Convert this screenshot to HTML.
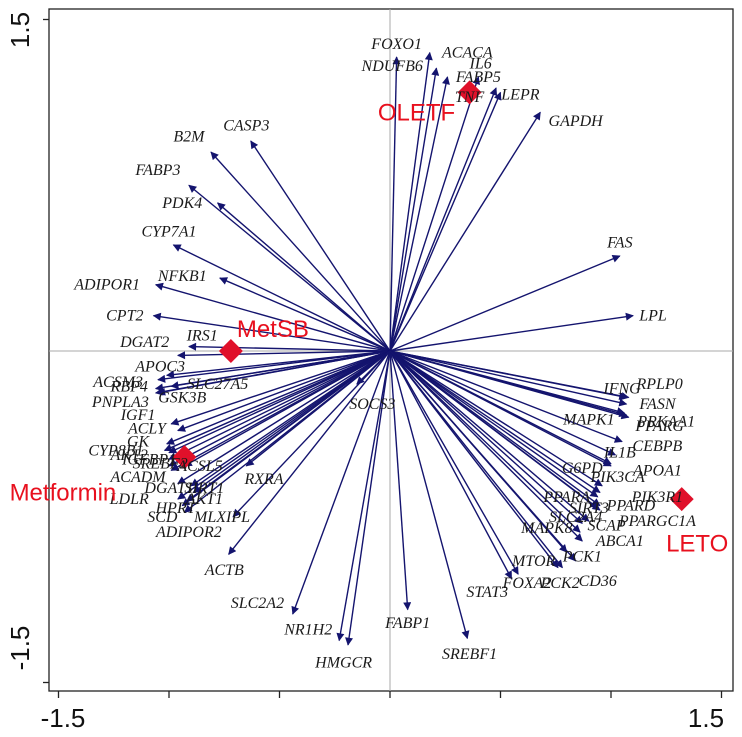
<!DOCTYPE html>
<html><head><meta charset="utf-8"><style>
html,body{margin:0;padding:0;background:#fff;}
svg{display:block;}
.g{font-family:"Liberation Serif",serif;font-style:italic;font-size:16px;fill:#1a1a1a;}
.s{font-family:"Liberation Sans",sans-serif;font-size:24px;fill:#e8101e;}
.ax{font-family:"Liberation Sans",sans-serif;font-size:26px;fill:#111;}
</style></head><body>
<svg id="chart" width="742" height="737" viewBox="0 0 742 737" xmlns="http://www.w3.org/2000/svg">
<defs><marker id="ah" viewBox="0 0 10 10" refX="9" refY="5" markerWidth="9" markerHeight="8" markerUnits="userSpaceOnUse" orient="auto"><path d="M0,0 L10,5 L0,10 z" fill="#14146e"/></marker></defs>
</svg>
<script>
const genes=["FOXO1","ACACA","NDUFB6","FABP5","IL6","TNF","LEPR","GAPDH","FAS","LPL","CASP3","B2M","FABP3","PDK4","CYP7A1","NFKB1","ADIPOR1","CPT2","IRS1","DGAT2","APOC3","ACSM3","RBP4","SLC27A5","PNPLA3","GSK3B","IGF1","ACLY","GK","CYP8B1","AKT2","IGFBP1","ACSL5","ACADM","SREBF2","DGAT1","SIRT1","AKT1","LDLR","HPRT","SCD","MLXIPL","ADIPOR2","RXRA","ACTB","SLC2A2","NR1H2","HMGCR","FABP1","SREBF1","STAT3","FOXA2","MTOR","PCK2","PCK1","CD36","SOCS3","IFNG","RPLP0","FASN","MAPK1","PRKAA1","PPARG","CEBPB","IL1B","G6PD","APOA1","PIK3CA","PPARA","PIK3R1","PPARD","SIRT3","PPARGC1A","SLC2A4","MAPK8","SCAP","ABCA1"];
const pc1=[0.03,0.18,0.21,0.26,0.40,0.48,0.50,0.68,1.04,1.10,-0.63,-0.81,-0.91,-0.78,-0.98,-0.77,-1.06,-1.07,-0.91,-0.96,-1.01,-1.05,-1.06,-0.99,-1.06,-1.05,-0.99,-0.96,-1.01,-1.02,-1.00,-1.00,-0.93,-0.99,-1.00,-0.96,-0.90,-0.89,-0.96,-0.92,-0.94,-0.71,-0.93,-0.65,-0.73,-0.44,-0.23,-0.19,0.08,0.35,0.55,0.58,0.76,0.78,0.80,0.84,-0.15,1.07,1.08,1.07,1.06,1.07,1.08,1.05,1.02,1.00,1.00,0.96,0.94,0.95,0.95,0.94,0.95,0.90,0.87,0.86,0.87];
const pc2=[1.33,1.35,1.28,1.24,1.24,1.19,1.17,1.08,0.43,0.16,0.95,0.90,0.75,0.67,0.48,0.33,0.30,0.16,0.02,-0.02,-0.11,-0.13,-0.17,-0.16,-0.19,-0.19,-0.33,-0.36,-0.42,-0.45,-0.46,-0.49,-0.52,-0.54,-0.52,-0.60,-0.61,-0.64,-0.67,-0.68,-0.70,-0.75,-0.73,-0.52,-0.92,-1.19,-1.31,-1.33,-1.17,-1.30,-1.03,-1.01,-0.98,-0.98,-0.91,-0.95,-0.15,-0.21,-0.21,-0.24,-0.28,-0.29,-0.30,-0.41,-0.47,-0.51,-0.52,-0.61,-0.66,-0.64,-0.70,-0.71,-0.72,-0.77,-0.78,-0.82,-0.86];
const labelX=[0.03,0.35,0.01,0.40,0.41,0.36,0.59,0.84,1.04,1.19,-0.65,-0.91,-1.05,-0.94,-1.00,-0.94,-1.28,-1.20,-0.85,-1.11,-1.04,-1.23,-1.18,-0.78,-1.22,-0.94,-1.14,-1.10,-1.14,-1.24,-1.18,-1.09,-0.86,-1.14,-1.04,-1.00,-0.84,-0.84,-1.18,-0.97,-1.03,-0.76,-0.91,-0.57,-0.75,-0.60,-0.37,-0.21,0.08,0.36,0.44,0.62,0.65,0.77,0.87,0.94,-0.08,1.05,1.22,1.21,0.90,1.25,1.22,1.21,1.04,0.87,1.21,1.03,0.80,1.21,1.09,0.90,1.21,0.84,0.71,0.98,1.04];
const labelY=[1.39,1.35,1.29,1.24,1.30,1.15,1.16,1.04,0.49,0.16,1.02,0.97,0.82,0.67,0.54,0.34,0.30,0.16,0.07,0.04,-0.07,-0.14,-0.16,-0.15,-0.23,-0.21,-0.29,-0.35,-0.41,-0.45,-0.47,-0.49,-0.52,-0.57,-0.51,-0.62,-0.62,-0.67,-0.67,-0.71,-0.75,-0.75,-0.82,-0.58,-0.99,-1.14,-1.26,-1.41,-1.23,-1.37,-1.09,-1.05,-0.95,-1.05,-0.93,-1.04,-0.24,-0.17,-0.15,-0.24,-0.31,-0.32,-0.34,-0.43,-0.46,-0.53,-0.54,-0.57,-0.66,-0.66,-0.70,-0.71,-0.77,-0.75,-0.80,-0.79,-0.86];
const samples=["OLETF","MetSB","Metformin","LETO"];
const samplePC1=[0.36,-0.72,-0.93,1.32];
const samplePC2=[1.17,0.00,-0.48,-0.67];
const sampleLabelX=[0.12,-0.53,-1.48,1.39];
const sampleLabelY=[1.08,0.10,-0.64,-0.87];
const xTicks=[-1.5,-1,-0.5,0,0.5,1,1.5];
const xTickLabels=["-1.5","1.5"];
const yTickLabels=["1.5","-1.5"];

const NS="http://www.w3.org/2000/svg";
const svg=document.getElementById('chart');
const X0=390,Y0=351,U=221;
const sx=v=>X0+v*U, sy=v=>Y0-v*U;
function mk(tag,attrs,parent){const e=document.createElementNS(NS,tag);for(const k in attrs)e.setAttribute(k,attrs[k]);(parent||svg).appendChild(e);return e;}

const frame=mk('rect',{x:49,y:9,width:684,height:682,fill:'none',stroke:'#222','stroke-width':1.3});


const hz=mk('line',{x1:49,x2:733,y1:sy(0),y2:sy(0),stroke:'#aaa','stroke-width':1});


const vz=mk('line',{x1:sx(0),x2:sx(0),y1:9,y2:691,stroke:'#aaa','stroke-width':1});



xTicks.forEach(t=>{const l=mk('line',{x1:sx(t),x2:sx(t),y1:691,y2:698,stroke:'#222','stroke-width':1.3});

});
[1.5,-1.5].forEach(t=>{const l=mk('line',{x1:43,x2:49,y1:sy(t),y2:sy(t),stroke:'#222','stroke-width':1.3});

});
const xl1=mk('text',{x:63,y:727,'text-anchor':'middle',class:'ax'});xl1.textContent=xTickLabels[0];


const xl2=mk('text',{x:706,y:727,'text-anchor':'middle',class:'ax'});xl2.textContent=xTickLabels[1];


const yl1=mk('text',{x:0,y:0,'text-anchor':'middle',class:'ax',transform:'translate(29,30) rotate(-90)'});yl1.textContent=yTickLabels[0];


const yl2=mk('text',{x:0,y:0,'text-anchor':'middle',class:'ax',transform:'translate(29,648) rotate(-90)'});yl2.textContent=yTickLabels[1];



genes.forEach((g,i)=>{
  const a=mk('line',{x1:X0,y1:Y0,x2:sx(pc1[i]),y2:sy(pc2[i]),stroke:'#14146e','stroke-width':1.4,'marker-end':'url(#ah)'});
  
  
});
samples.forEach((s,i)=>{
  const cx=sx(samplePC1[i]),cy=sy(samplePC2[i]),r=12;
  const d=mk('polygon',{points:`${cx},${cy-r} ${cx+r},${cy} ${cx},${cy+r} ${cx-r},${cy}`,fill:'#e0102a'});
  
  
});
genes.forEach((g,i)=>{
  const t=mk('text',{x:sx(labelX[i]),y:sy(labelY[i])+5,'text-anchor':'middle',class:'g'});
  t.textContent=g;
  
  
});
samples.forEach((s,i)=>{
  const t=mk('text',{x:sx(sampleLabelX[i]),y:sy(sampleLabelY[i])+8,'text-anchor':'middle',class:'s'});
  t.textContent=s;
  
  
});
</script>
</body></html>
